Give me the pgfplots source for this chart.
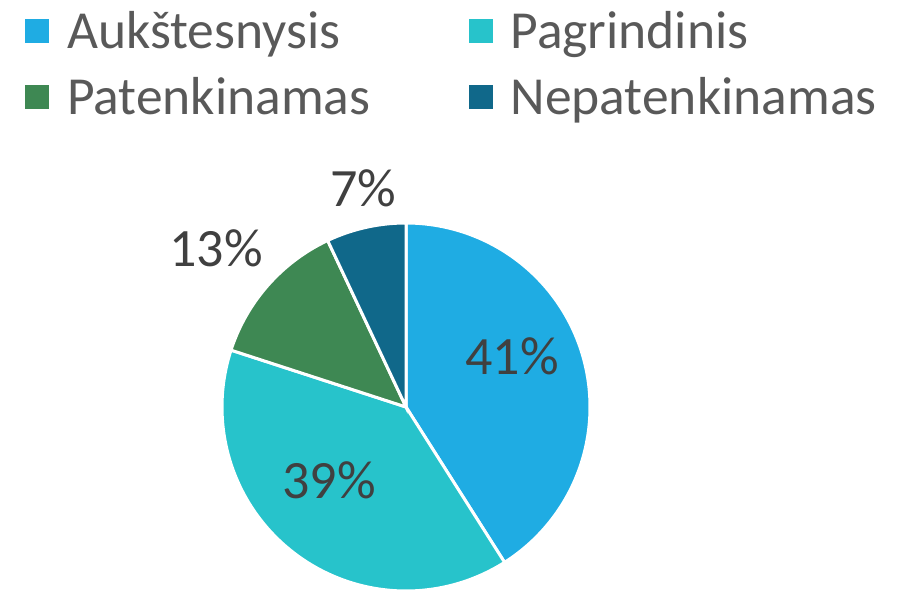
\documentclass[border=0pt]{standalone}
\usepackage{fontspec}
\setmainfont{Carlito}
\usepackage{pgfplots}
\pgfplotsset{compat=1.18}
\definecolor{cA}{HTML}{1FACE3}
\definecolor{cB}{HTML}{27C3CB}
\definecolor{cC}{HTML}{3E8853}
\definecolor{cD}{HTML}{10688A}
\definecolor{lg}{HTML}{595959}
\definecolor{lb}{HTML}{404040}
% values (percent)
\def\vA{41}\def\vB{39}\def\vC{13}\def\vD{7}
\pgfmathsetmacro{\aA}{90}
\pgfmathsetmacro{\aB}{\aA-3.6*\vA}
\pgfmathsetmacro{\aC}{\aB-3.6*\vB}
\pgfmathsetmacro{\aD}{\aC-3.6*\vC}
\pgfmathsetmacro{\aE}{\aD-3.6*\vD}
\def\cx{406}\def\cy{182}\def\R{184}
\begin{document}
\begin{tikzpicture}
\begin{axis}[
  scale only axis, width=902pt, height=589pt,
  xmin=0, xmax=902, ymin=0, ymax=589,
  hide axis, clip=false,
  legend columns=2,
  legend cell align=left,
  legend style={at={(rel axis cs:0,1)}, anchor=north west, draw=none, fill=none,
    font=\fontsize{53.5}{60}\selectfont\color{lg},
    inner sep=0pt, xshift=25pt, yshift=-9pt,
    row sep=24pt,
    /tikz/every even column/.append style={column sep=80pt},
    nodes={inner xsep=18pt, inner ysep=2pt}},
  legend image code/.code={\fill[#1,draw=none] (0pt,-12pt) rectangle (24pt,12pt);},
]
\addplot[fill=cA, draw=white, line width=3pt, domain=\aB:\aA, samples=120] ({\cx+\R*cos(x)},{\cy+\R*sin(x)}) -- (axis cs:\cx,\cy) -- cycle;
\addlegendentry{Aukštesnysis}
\addplot[fill=cB, draw=white, line width=3pt, domain=\aC:\aB, samples=120] ({\cx+\R*cos(x)},{\cy+\R*sin(x)}) -- (axis cs:\cx,\cy) -- cycle;
\addlegendentry{Pagrindinis}
\addplot[fill=cC, draw=white, line width=3pt, domain=\aD:\aC, samples=60] ({\cx+\R*cos(x)},{\cy+\R*sin(x)}) -- (axis cs:\cx,\cy) -- cycle;
\addlegendentry{Patenkinamas}
\addplot[fill=cD, draw=white, line width=3pt, domain=\aE:\aD, samples=40] ({\cx+\R*cos(x)},{\cy+\R*sin(x)}) -- (axis cs:\cx,\cy) -- cycle;
\addlegendentry{Nepatenkinamas}
\begin{scope}[every node/.style={anchor=base, text=lb, font=\fontsize{54}{60}\selectfont, inner sep=0pt}]
\node at (axis cs:512,214) {41\%};
\node at (axis cs:329,90) {39\%};
\node at (axis cs:216,322) {13\%};
\node at (axis cs:363.5,382) {7\%};
\end{scope}
\end{axis}
\pgfresetboundingbox
\path (current axis.south west) rectangle (current axis.north east);
\end{tikzpicture}
\end{document}
